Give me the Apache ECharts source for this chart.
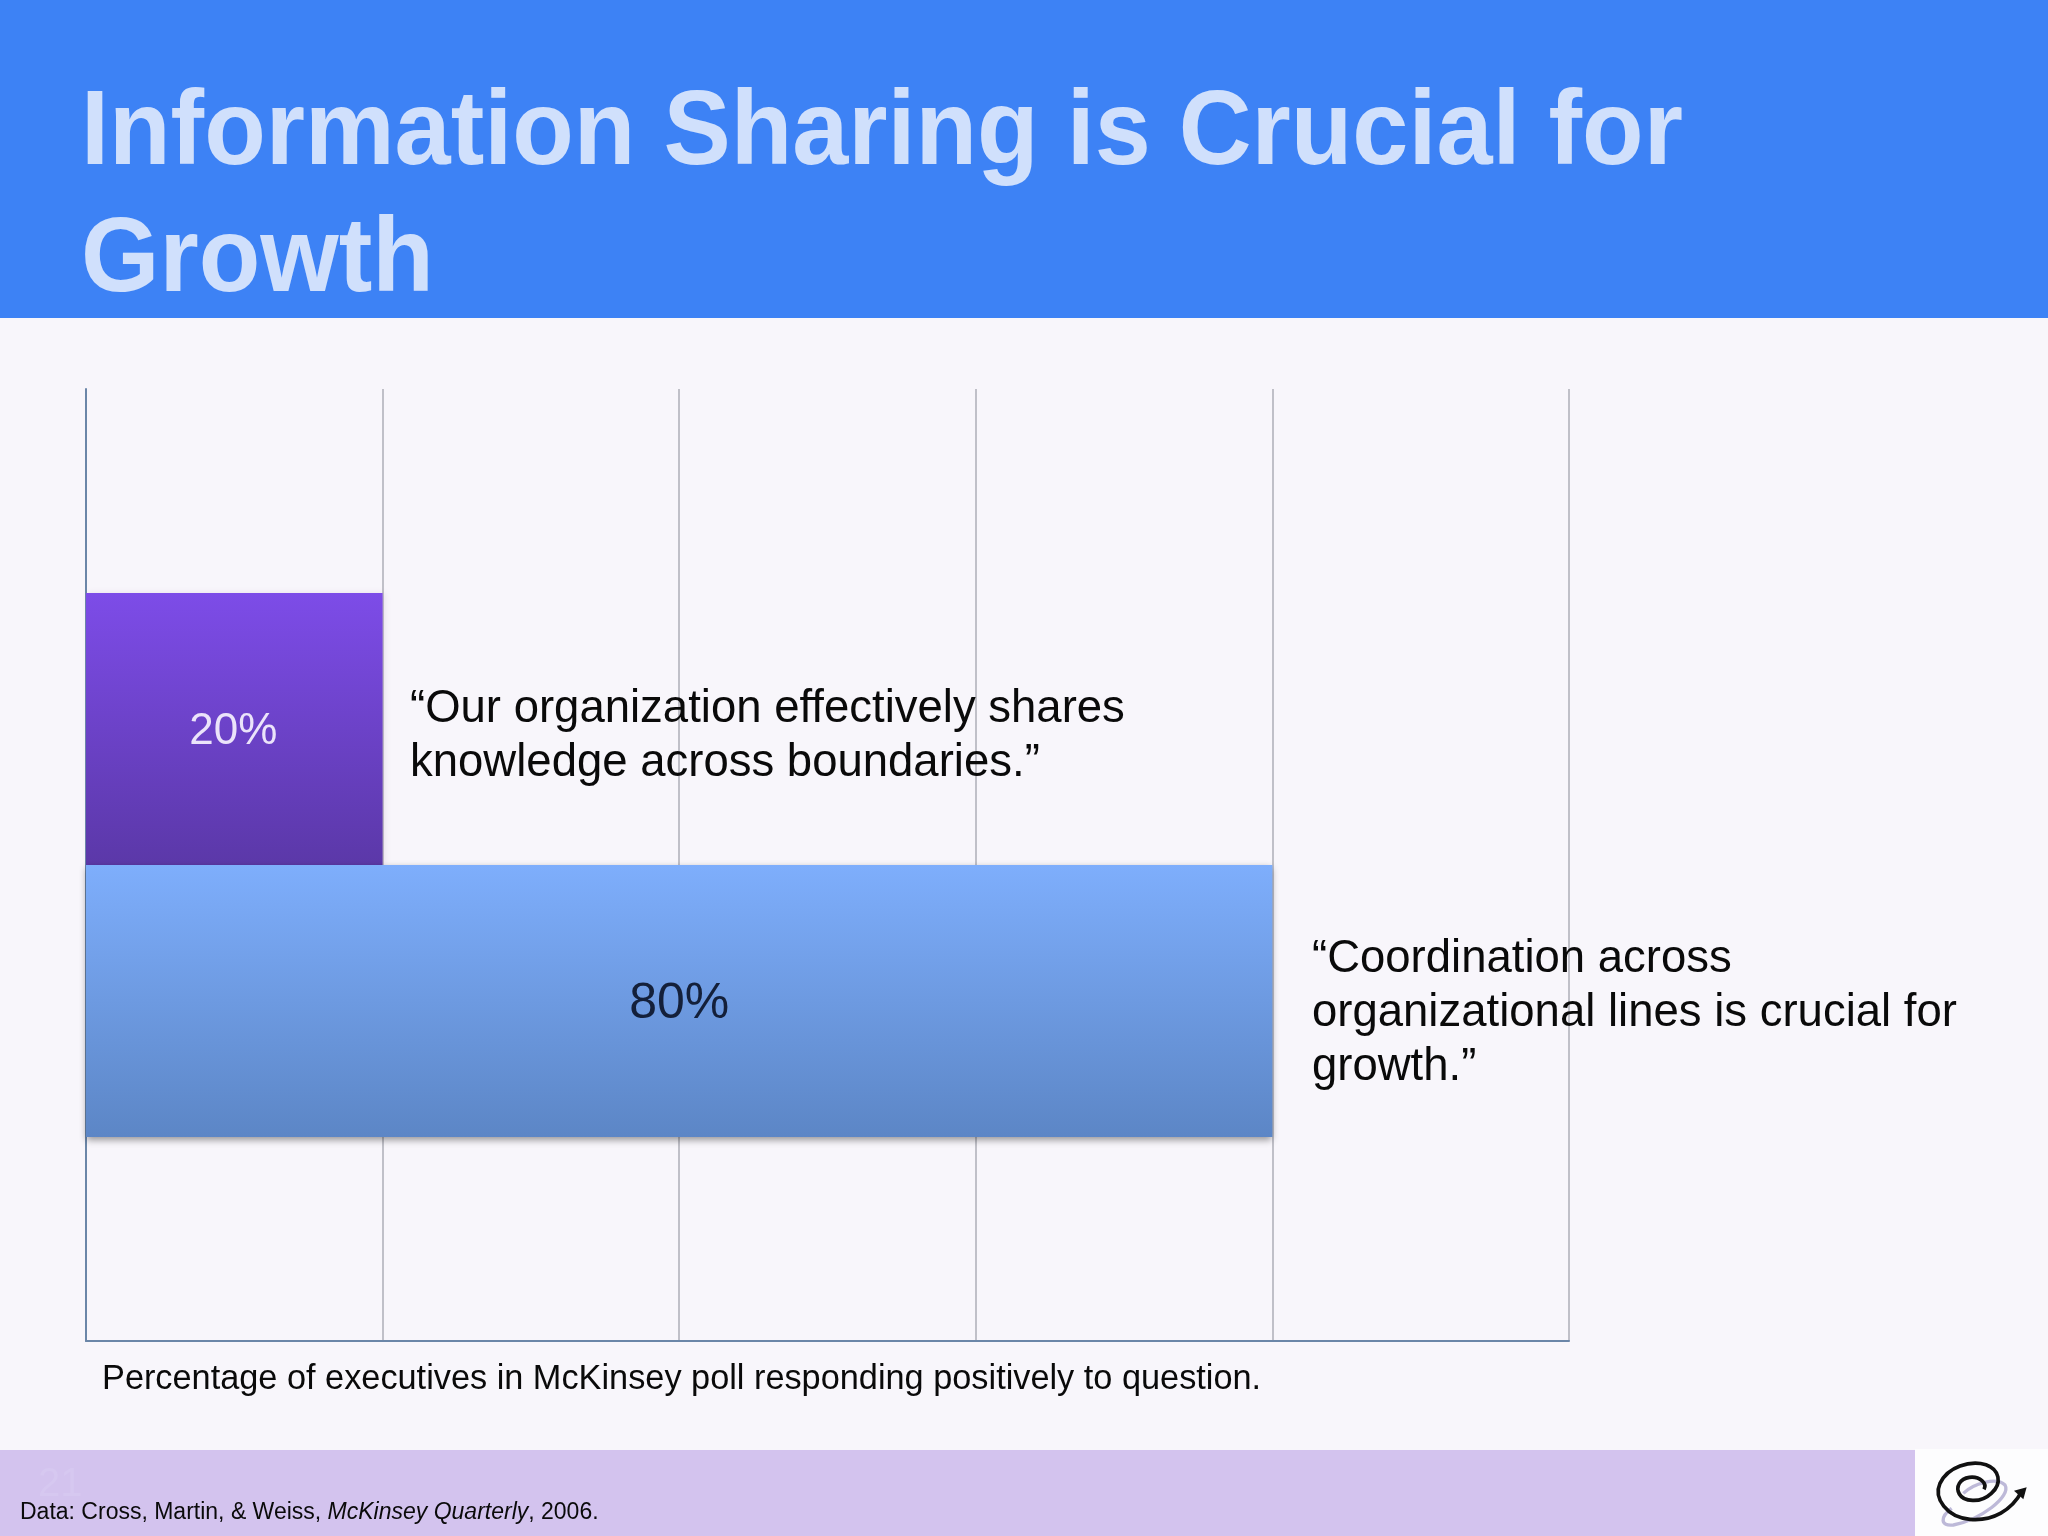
<!DOCTYPE html>
<html lang="en">
<head>
    <meta charset="UTF-8">
    <script src="https://cdn.jsdelivr.net/npm/echarts/dist/echarts.min.js"></script>
    <style>
        body, html { margin: 0; padding: 0; width: 100%; height: 100%; background: #f8f6fb; }
        #chart { width: 2048px; height: 1536px; }
    </style>
</head>
<body>
    <div id="chart"></div>
    <script>
        const pollLabel = ['McKinsey poll'];
        const sharesKnowledge = [20];
        const coordinationCrucial = [80];
        const xTicks = { min: 0, max: 100, interval: 20 };

        const titleText = 'Information Sharing is Crucial for\nGrowth';
        const quoteShares = '\u201COur organization effectively shares\nknowledge across boundaries.\u201D';
        const quoteCoordination = '\u201CCoordination across\norganizational lines is crucial for\ngrowth.\u201D';
        const captionText = 'Percentage of executives in McKinsey poll responding positively to question.';

        const sans = '"Liberation Sans", Arial, sans-serif';

        function vGrad(top, bottom) {
            return new echarts.graphic.LinearGradient(0, 0, 0, 1, [
                { offset: 0, color: top },
                { offset: 1, color: bottom }
            ]);
        }

        // logo swirl, traced in a 3x local space
        function logoShape(name, pathData) {
            echarts.graphic.registerShape(name, echarts.graphic.extendPath(pathData, {}));
        }
        logoShape('logoShadow', 'M250 190C280 160 350 140 375 165C395 200 300 270 220 285C180 290 180 260 215 235');
        logoShape('logoSpiral', 'M312 178C322 160 300 138 268 142C240 146 226 170 238 192C250 214 300 222 334 190C368 160 358 118 318 104C270 90 204 110 180 160C160 205 200 262 270 268C340 274 395 240 425 185');
        logoShape('logoArrow', 'M402 182L440 172L430 208Z');

        const chart = echarts.init(document.getElementById('chart'));
        chart.setOption({
            animation: false,
            backgroundColor: '#f8f6fb',
            grid: { left: 86, top: 389, width: 1483, height: 952 },
            xAxis: {
                type: 'value',
                position: 'bottom',
                min: xTicks.min,
                max: xTicks.max,
                interval: xTicks.interval,
                axisLine: { show: true, onZero: false, lineStyle: { color: '#6b86a8', width: 2 } },
                axisTick: { show: false },
                axisLabel: { show: false },
                splitLine: { show: true, lineStyle: { color: '#c0c0c8', width: 2 } }
            },
            yAxis: {
                type: 'category',
                inverse: true,
                data: pollLabel,
                axisLine: { show: true, lineStyle: { color: '#6b86a8', width: 2 } },
                axisTick: { show: false },
                axisLabel: { show: false }
            },
            series: [
                {
                    name: 'Shares knowledge',
                    type: 'bar',
                    data: sharesKnowledge,
                    barWidth: 272,
                    barGap: 0,
                    silent: true,
                    itemStyle: {
                        color: vGrad('#7d4ce8', '#5b38a8'),
                        shadowColor: 'rgba(120,60,120,0.12)',
                        shadowBlur: 6,
                        shadowOffsetX: 2
                    },
                    label: {
                        show: true,
                        position: 'inside',
                        offset: [-1, 3],
                        formatter: '{c}%',
                        color: '#ebe3fa',
                        fontFamily: sans,
                        fontSize: 44
                    }
                },
                {
                    name: 'Coordination crucial',
                    type: 'bar',
                    data: coordinationCrucial,
                    barWidth: 272,
                    barGap: 0,
                    silent: true,
                    itemStyle: {
                        color: vGrad('#7eaefc', '#5c86c6'),
                        shadowColor: 'rgba(0,0,0,0.4)',
                        shadowBlur: 7,
                        shadowOffsetY: 3
                    },
                    label: {
                        show: true,
                        position: 'inside',
                        offset: [0, 3],
                        formatter: '{c}%',
                        color: '#14203a',
                        fontFamily: sans,
                        fontSize: 50
                    }
                }
            ],
            graphic: [
                { type: 'rect', z: 0, shape: { x: 0, y: 0, width: 2048, height: 318 }, style: { fill: '#3d82f5' } },
                { type: 'rect', z: 0, shape: { x: 0, y: 1450, width: 1915, height: 86 }, style: { fill: '#d3c3ee' } },
                { type: 'rect', z: 0, shape: { x: 1915, y: 1449, width: 133, height: 87 }, style: { fill: '#fdfdfe' } },
                {
                    type: 'text', z: 10, x: 81, y: 71, scaleX: 0.951,
                    style: { text: titleText, fill: '#d0e0fc', font: 'bold 106px ' + sans, lineHeight: 127 }
                },
                { type: 'text', z: 10, x: 410, y: 682, style: { text: quoteShares, fill: '#0a0a0a', font: '45.5px ' + sans, lineHeight: 54 } },
                { type: 'text', z: 10, x: 1312, y: 932, style: { text: quoteCoordination, fill: '#0a0a0a', font: '45.5px ' + sans, lineHeight: 54 } },
                { type: 'text', z: 10, x: 102, y: 1363, style: { text: captionText, fill: '#0a0a0a', font: '34.3px ' + sans } },
                {
                    type: 'text', z: 10, x: 20, y: 1501,
                    style: {
                        text: '{a|Data: Cross, Martin, & Weiss, }{b|McKinsey Quarterly}{a|, 2006.}',
                        rich: {
                            a: { fill: '#0a0a0a', fontFamily: sans, fontSize: 23 },
                            b: { fill: '#0a0a0a', fontFamily: sans, fontSize: 23, fontStyle: 'italic' }
                        }
                    }
                },
                { type: 'text', z: 1, x: 38, y: 1465, style: { text: '21', fill: '#d6c8f0', font: '40px ' + sans } },
                {
                    type: 'group', x: 1880, y: 1430, scaleX: 1 / 3, scaleY: 1 / 3,
                    children: [
                        { type: 'logoShadow', z: 5, style: { fill: 'none', stroke: '#bdb9d8', lineWidth: 10 } },
                        { type: 'logoSpiral', z: 6, style: { fill: 'none', stroke: '#111111', lineWidth: 11 } },
                        { type: 'logoArrow', z: 6, style: { fill: '#111111' } }
                    ]
                }
            ]
        });
    </script>
</body>
</html>
